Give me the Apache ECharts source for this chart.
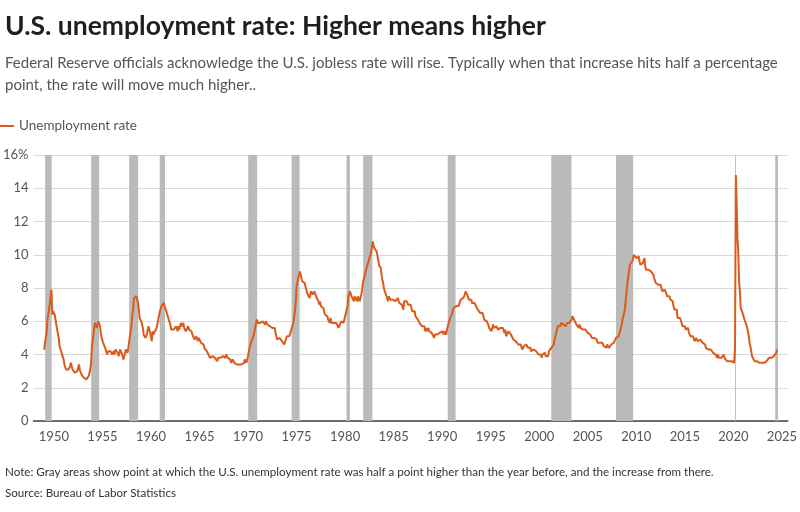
<!DOCTYPE html>
<html>
<head>
<meta charset="utf-8">
<script src="https://cdn.jsdelivr.net/npm/echarts@6/dist/echarts.min.js"></script>
<style>html,body{margin:0;padding:0;background:#fff}#c{width:800px;height:512px}</style>
</head>
<body>
<div id="c"></div>
<script>
// Monthly U.S. unemployment rate (%), Jan of first year onward
const startYear = 1949;
const rate1940s = [4.3,4.7,5.0,5.3,6.1,6.2,6.7,6.8,6.6,7.9,6.4,6.6];
const rate1950s = [
6.5,6.4,6.3,5.8,5.5,5.4,5.0,4.5,4.4,4.2,4.2,4.3,
3.7,3.4,3.4,3.1,3.0,3.2,3.1,3.1,3.3,3.5,3.5,3.1,
3.2,3.1,2.9,2.9,3.0,3.0,3.2,3.4,3.1,3.0,2.8,2.7,
2.9,2.6,2.6,2.7,2.5,2.5,2.6,2.7,2.9,3.1,3.5,4.5,
4.9,5.2,5.7,5.9,5.9,5.6,5.8,6.0,6.1,5.7,5.3,5.0,
4.9,4.7,4.6,4.7,4.3,4.2,4.0,4.2,4.1,4.3,4.2,4.2,
4.0,3.9,4.2,4.0,4.3,4.3,4.4,4.1,3.9,3.9,4.3,4.2,
4.2,3.9,3.7,3.9,4.1,4.3,4.2,4.1,4.4,4.5,5.1,5.2,
5.8,6.4,6.7,7.4,7.4,7.3,7.5,7.4,7.1,6.7,6.2,6.2,
6.0,5.9,5.6,5.2,5.1,5.0,5.1,5.2,5.5,5.7,5.8,5.3];
const rate1960s = [
5.2,4.8,5.4,5.2,5.1,5.4,5.5,5.6,5.5,6.1,6.1,6.6,
6.6,6.9,6.9,7.0,7.1,6.9,7.0,6.6,6.7,6.5,6.1,6.0,
5.8,5.5,5.6,5.6,5.5,5.5,5.4,5.7,5.6,5.4,5.7,5.5,
5.7,5.9,5.7,5.7,5.9,5.6,5.6,5.4,5.5,5.5,5.7,5.5,
5.6,5.4,5.4,5.3,5.1,5.2,4.9,5.0,5.1,5.1,4.8,5.0,
4.9,5.1,4.7,4.8,4.6,4.6,4.4,4.4,4.3,4.2,4.1,4.0,
4.0,3.8,3.8,3.8,3.9,3.8,3.8,3.8,3.7,3.7,3.6,3.8,
3.9,3.8,3.8,3.8,3.8,3.9,3.8,3.8,3.8,4.0,3.9,3.8,
3.7,3.8,3.7,3.5,3.5,3.7,3.7,3.5,3.4,3.4,3.4,3.4,
3.4,3.4,3.4,3.4,3.4,3.5,3.5,3.5,3.7,3.7,3.5,3.5];
const rate1970s = [
3.9,4.2,4.4,4.6,4.8,4.9,5.0,5.1,5.4,5.5,5.9,6.1,
5.9,5.9,6.0,5.9,5.9,5.9,6.0,6.1,6.0,5.8,6.0,6.0,
5.8,5.7,5.8,5.7,5.7,5.7,5.6,5.6,5.5,5.6,5.3,5.2,
4.9,5.0,4.9,5.0,4.9,4.9,4.8,4.8,4.8,4.6,4.8,4.9,
5.1,5.2,5.1,5.1,5.1,5.4,5.5,5.5,5.9,6.0,6.6,7.2,
8.1,8.1,8.6,8.8,9.0,8.8,8.6,8.4,8.4,8.4,8.3,8.2,
7.9,7.7,7.6,7.7,7.4,7.6,7.8,7.8,7.6,7.7,7.8,7.8,
7.5,7.6,7.4,7.2,7.0,7.2,6.9,7.0,6.8,6.8,6.8,6.4,
6.4,6.3,6.3,6.1,6.0,5.9,6.2,5.9,6.0,5.8,5.9,6.0,
5.9,5.9,5.8,5.8,5.6,5.7,5.7,6.0,5.9,6.0,5.9,6.0];
const rate1980s = [
6.3,6.3,6.3,6.9,7.5,7.6,7.8,7.7,7.5,7.5,7.5,7.2,
7.5,7.4,7.4,7.2,7.5,7.5,7.2,7.4,7.6,7.9,8.3,8.5,
8.6,8.9,9.0,9.3,9.4,9.6,9.8,9.8,10.1,10.4,10.8,10.8,
10.4,10.4,10.3,10.2,10.1,10.1,9.4,9.5,9.2,8.8,8.5,8.3,
8.0,7.8,7.8,7.7,7.4,7.2,7.5,7.5,7.3,7.4,7.2,7.3,
7.3,7.2,7.2,7.3,7.2,7.4,7.4,7.1,7.1,7.1,7.0,7.0,
6.7,7.2,7.2,7.1,7.2,7.2,7.0,6.9,7.0,7.0,6.9,6.6,
6.6,6.6,6.6,6.3,6.3,6.2,6.1,6.0,5.9,6.0,5.8,5.7,
5.7,5.7,5.7,5.4,5.6,5.4,5.4,5.6,5.4,5.4,5.3,5.3,
5.4,5.2,5.0,5.2,5.2,5.3,5.2,5.2,5.3,5.3,5.4,5.4];
const rate1990s = [
5.4,5.3,5.2,5.4,5.4,5.2,5.5,5.7,5.9,5.9,6.2,6.3,
6.4,6.6,6.8,6.7,6.9,6.9,6.8,6.9,6.9,7.0,7.0,7.3,
7.3,7.4,7.4,7.4,7.6,7.8,7.7,7.6,7.6,7.3,7.4,7.4,
7.3,7.1,7.0,7.1,7.1,7.0,6.9,6.8,6.7,6.8,6.6,6.5,
6.6,6.6,6.5,6.4,6.1,6.1,6.1,6.0,5.9,5.8,5.6,5.5,
5.6,5.4,5.4,5.8,5.6,5.6,5.7,5.7,5.6,5.5,5.6,5.6,
5.6,5.5,5.5,5.6,5.6,5.3,5.5,5.1,5.2,5.2,5.4,5.4,
5.3,5.2,5.2,5.1,4.9,5.0,4.9,4.8,4.9,4.7,4.6,4.7,
4.6,4.6,4.7,4.3,4.4,4.5,4.5,4.5,4.6,4.5,4.4,4.4,
4.3,4.4,4.2,4.3,4.2,4.3,4.3,4.2,4.2,4.1,4.1,4.0];
const rate2000s = [
4.0,4.1,4.0,3.8,4.0,4.0,4.0,4.1,3.9,3.9,3.9,3.9,
4.2,4.2,4.3,4.4,4.3,4.5,4.6,4.9,5.0,5.3,5.5,5.7,
5.7,5.7,5.7,5.9,5.8,5.8,5.8,5.7,5.7,5.7,5.9,6.0,
5.8,5.9,5.9,6.0,6.1,6.3,6.2,6.1,6.1,6.0,5.8,5.7,
5.7,5.6,5.8,5.6,5.6,5.6,5.5,5.4,5.4,5.5,5.4,5.4,
5.3,5.4,5.2,5.2,5.1,5.0,5.0,4.9,5.0,5.0,5.0,4.9,
4.7,4.8,4.7,4.7,4.6,4.6,4.7,4.7,4.5,4.4,4.5,4.4,
4.6,4.5,4.4,4.5,4.4,4.6,4.7,4.6,4.7,4.7,4.7,5.0,
5.0,4.9,5.1,5.0,5.4,5.6,5.8,6.1,6.1,6.5,6.8,7.3,
7.8,8.3,8.7,9.0,9.4,9.5,9.5,9.6,9.8,10.0,9.9,9.9];
const rate2010s = [
9.8,9.8,9.9,9.9,9.6,9.4,9.4,9.5,9.5,9.4,9.8,9.3,
9.1,9.0,9.0,9.1,9.0,9.1,9.0,9.0,9.0,8.8,8.6,8.5,
8.3,8.3,8.2,8.2,8.2,8.2,8.2,8.1,7.8,7.8,7.7,7.9,
8.0,7.7,7.5,7.6,7.5,7.5,7.3,7.2,7.2,7.2,6.9,6.7,
6.6,6.7,6.7,6.2,6.3,6.1,6.2,6.1,5.9,5.7,5.8,5.6,
5.7,5.5,5.4,5.4,5.6,5.3,5.2,5.1,5.0,5.0,5.1,5.0,
4.8,4.9,5.0,5.1,4.8,4.9,4.8,4.9,5.0,4.9,4.7,4.7,
4.7,4.6,4.4,4.4,4.4,4.3,4.3,4.4,4.3,4.2,4.2,4.1,
4.0,4.1,4.0,4.0,3.8,4.0,3.8,3.8,3.7,3.8,3.8,3.9,
4.0,3.8,3.8,3.7,3.6,3.6,3.7,3.6,3.5,3.6,3.6,3.6];
const rate2020s = [
3.5,3.5,4.4,14.8,13.2,11.0,10.2,8.4,7.8,6.8,6.7,6.7,
6.4,6.2,6.1,6.1,5.8,5.9,5.4,5.1,4.7,4.5,4.2,3.9,
4.0,3.8,3.6,3.7,3.6,3.6,3.5,3.6,3.5,3.6,3.6,3.5,
3.4,3.6,3.5,3.4,3.6,3.6,3.5,3.7,3.8,3.9,3.7,3.8,
3.7,3.9,3.9,3.9,4.0,4.1,4.3];

// Gray areas (decimal years): trigger point to the following peak
const bandStarts = [1949.10,1953.84,1957.76,1960.90,1970.02,1974.49,1980.15,1981.86,1990.57,2001.24,2007.90,2020.17,2024.31];
const bandEnds   = [1949.77,1954.66,1958.68,1961.45,1970.94,1975.31,1980.49,1982.81,1991.38,2003.32,2009.67,2020.26,2024.59];

const xTickYears = [1950,1955,1960,1965,1970,1975,1980,1985,1990,1995,2000,2005,2010,2015,2020,2025];
const yTicks = [0,2,4,6,8,10,12,14,16];

const allRates = [].concat(rate1940s, rate1950s, rate1960s, rate1970s, rate1980s, rate1990s, rate2000s, rate2010s, rate2020s);
const seriesData = allRates.map((v, i) => [startYear + i / 12, v]);
const bands = bandStarts.map((s, i) => [{ xAxis: s }, { xAxis: bandEnds[i] }]);

const FONT = 'Lato';
const chart = echarts.init(document.getElementById('c'), null, { renderer: 'canvas' });
chart.setOption({
  animation: false,
  backgroundColor: '#ffffff',
  textStyle: { fontFamily: FONT },
  title: [
    { text: 'U.S. unemployment rate: Higher means higher', left: 0, top: 8,
      textStyle: { fontFamily: FONT, fontSize: 26.5, fontWeight: 'bold', color: '#1f1f1f' } },
    { text: 'Federal Reserve officials acknowledge the U.S. jobless rate will rise. Typically when that increase hits half a percentage\npoint, the rate will move much higher..',
      left: 0, top: 47,
      textStyle: { fontFamily: FONT, fontSize: 15, fontWeight: 'normal', color: '#555555', lineHeight: 22 } },
    { text: 'Note: Gray areas show point at which the U.S. unemployment rate was half a point higher than the year before, and the increase from there.',
      left: 0, top: 461,
      textStyle: { fontFamily: FONT, fontSize: 11.6, fontWeight: 'normal', color: '#333333' } },
    { text: 'Source: Bureau of Labor Statistics', left: 0, top: 482,
      textStyle: { fontFamily: FONT, fontSize: 11.6, fontWeight: 'normal', color: '#333333' } }
  ],
  legend: {
    left: 0, top: 119, padding: 0, itemWidth: 14, itemHeight: 2, itemGap: 10,
    icon: 'rect',
    textStyle: { fontFamily: FONT, fontSize: 13.5, color: '#555555' },
    data: ['Unemployment rate']
  },
  grid: { left: 31, right: 10, top: 155, bottom: 91, containLabel: false },
  xAxis: {
    type: 'value', min: 1947.9, max: 2025.6,
    axisLine: { show: true, lineStyle: { color: '#444444', width: 1.5 } },
    axisTick: { show: false },
    splitLine: { show: false },
    axisLabel: { customValues: xTickYears, fontFamily: FONT, fontSize: 13, color: '#555555', margin: 9,
      formatter: v => String(Math.round(v)) }
  },
  yAxis: {
    type: 'value', min: 0, max: 16, interval: 2,
    axisLine: { show: false }, axisTick: { show: false },
    splitLine: { lineStyle: { color: '#d9d9d9', width: 1 } },
    axisLabel: { fontFamily: FONT, fontSize: 13, color: '#555555', margin: 5,
      formatter: v => v === 16 ? '16%' : String(v) }
  },
  series: [{
    name: 'Unemployment rate', type: 'line', data: seriesData,
    showSymbol: false, symbol: 'none',
    lineStyle: { color: '#dc5a1a', width: 2 },
    itemStyle: { color: '#dc5a1a' },
    z: 3,
    markArea: { silent: true, itemStyle: { color: '#bababa' }, data: bands }
  }]
});
</script>
</body>
</html>
